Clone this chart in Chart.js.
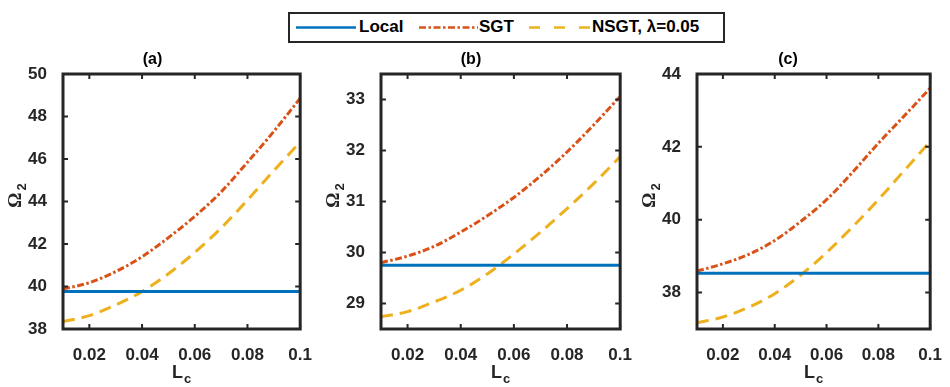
<!DOCTYPE html>
<html>
<head>
<meta charset="utf-8">
<script src="https://cdn.jsdelivr.net/npm/chart.js@4.4.1/dist/chart.umd.min.js"></script>
<style>
  body{margin:0;background:#fff;width:950px;height:387px;overflow:hidden;position:relative;font-family:"Liberation Sans",Arial,sans-serif;}
  canvas{position:absolute;}
  #legend{position:absolute;left:288px;top:12px;width:433px;height:27px;border:2px solid #262626;background:#fff;}
  #legend span{position:absolute;top:3px;font-weight:bold;font-size:17px;color:#000;line-height:20px;}
  #legend svg{position:absolute;top:0;}
</style>
</head>
<body>
<div id="legend">
  <svg style="left:5px" width="62" height="27"><line x1="1" y1="13.5" x2="61" y2="13.5" stroke="#0072BD" stroke-width="2.5"/></svg>
  <span style="left:69px">Local</span>
  <svg style="left:128px" width="62" height="27"><line x1="1" y1="13.5" x2="60" y2="13.5" stroke="#D95319" stroke-width="2.5" stroke-dasharray="7,2.5,2.5,2.5"/></svg>
  <span style="left:189px">SGT</span>
  <svg style="left:238px" width="64" height="27"><line x1="1" y1="13.5" x2="62" y2="13.5" stroke="#EDB120" stroke-width="2.5" stroke-dasharray="11,14"/></svg>
  <span style="left:302px">NSGT, λ=0.05</span>
</div>
<canvas id="chart_a" width="320" height="337" style="left:0px;top:50px"></canvas>
<canvas id="chart_b" width="320" height="337" style="left:320px;top:50px"></canvas>
<canvas id="chart_c" width="310" height="337" style="left:640px;top:50px"></canvas>
<script>
/* DATA */
let lc_values=[0.01,0.02,0.03,0.04,0.05,0.06,0.07,0.08,0.09,0.1];
let x_ticks=[0.02,0.04,0.06,0.08,0.1];
let x_tick_labels=["0.02","0.04","0.06","0.08","0.1"];

// (a)
let local_a=[39.76,39.76,39.76,39.76,39.76,39.76,39.76,39.76,39.76,39.76];
let sgt_a=[39.88,40.18,40.7,41.4,42.3,43.3,44.45,45.85,47.3,48.86];
let nsgt_a=[38.35,38.63,39.13,39.76,40.6,41.6,42.75,44.07,45.45,46.8];
let y_ticks_a=[38,40,42,44,46,48,50];

// (b)
let local_b=[29.75,29.75,29.75,29.75,29.75,29.75,29.75,29.75,29.75,29.75];
let sgt_b=[29.8,29.93,30.12,30.4,30.72,31.08,31.5,31.97,32.5,33.06];
let nsgt_b=[28.74,28.84,29.03,29.26,29.58,29.97,30.4,30.86,31.35,31.88];
let y_ticks_b=[29,30,31,32,33];

// (c)
let local_c=[38.53,38.53,38.53,38.53,38.53,38.53,38.53,38.53,38.53,38.53];
let sgt_c=[38.59,38.79,39.05,39.43,39.95,40.55,41.3,42.1,42.85,43.61];
let nsgt_c=[37.17,37.33,37.6,37.97,38.48,39.1,39.8,40.55,41.35,42.15];
let y_ticks_c=[38,40,42,44];

/* STYLE */
const AXIS_COLOR="#262626";
const FONT_NAME="'Liberation Sans', Arial, sans-serif";

function to_points(ys){
  return lc_values.map((x,i)=>({x:x,y:ys[i]}));
}

// box + inward ticks + axis titles (MATLAB look)
const box_plugin={
  id:"box_plugin",
  afterDraw(chart){
    const ctx=chart.ctx;
    const a=chart.chartArea;
    const xs=chart.scales.x, ys=chart.scales.y;
    ctx.save();
    ctx.strokeStyle=AXIS_COLOR;
    ctx.lineWidth=3;
    ctx.strokeRect(a.left,a.top,a.right-a.left,a.bottom-a.top);
    ctx.lineWidth=2;
    ctx.beginPath();
    xs.ticks.forEach(t=>{
      let px=xs.getPixelForValue(t.value);
      ctx.moveTo(px,a.bottom); ctx.lineTo(px,a.bottom-5);
      ctx.moveTo(px,a.top); ctx.lineTo(px,a.top+5);
    });
    ys.ticks.forEach(t=>{
      let py=ys.getPixelForValue(t.value);
      ctx.moveTo(a.left,py); ctx.lineTo(a.left+5,py);
      ctx.moveTo(a.right,py); ctx.lineTo(a.right-5,py);
    });
    ctx.stroke();

    // x title : L_c
    ctx.fillStyle=AXIS_COLOR;
    ctx.textBaseline="alphabetic";
    ctx.textAlign="left";
    ctx.font="bold 18px "+FONT_NAME;
    let wL=ctx.measureText("L").width;
    ctx.font="bold 13px "+FONT_NAME;
    let wc=ctx.measureText("c").width;
    let cx=(a.left+a.right)/2-(wL+1+wc)/2;
    ctx.font="bold 18px "+FONT_NAME;
    ctx.fillText("L",cx,328);
    ctx.font="bold 13px "+FONT_NAME;
    ctx.fillText("c",cx+wL+1,333);

    // y title : Omega_2 (rotated)
    ctx.translate(a.left-48,(a.top+a.bottom)/2-6);
    ctx.rotate(-Math.PI/2);
    ctx.font="bold 19px 'Liberation Serif', serif";
    let wO=ctx.measureText("Ω").width;
    ctx.font="bold 13px "+FONT_NAME;
    let w2=ctx.measureText("2").width;
    let sx=-(wO+2+w2)/2;
    ctx.font="bold 19px 'Liberation Serif', serif";
    ctx.fillText("Ω",sx,6);
    ctx.font="bold 13px "+FONT_NAME;
    ctx.fillText("2",sx+wO+2,11);
    ctx.restore();
  }
};

function make_panel(canvas_id,title,local,sgt,nsgt,y_min,y_max,y_ticks,left_w,right_pad){
  const dom=document.getElementById(canvas_id).getContext('2d');
  return new Chart(dom,{
    type:'line',
    data:{
      datasets:[
        { // Local
          label:'Local',
          data:to_points(local),
          borderColor:'#0072BD',
          borderWidth:3,
          pointRadius:0,
          fill:false
        },
        { // SGT
          label:'SGT',
          data:to_points(sgt),
          borderColor:'#D95319',
          borderWidth:3,
          borderDash:[7,2.5,2.5,2.5],
          pointRadius:0,
          cubicInterpolationMode:'monotone',
          fill:false
        },
        { // NSGT
          label:'NSGT, λ=0.05',
          data:to_points(nsgt),
          borderColor:'#EDB120',
          borderWidth:3,
          borderDash:[12,7],
          pointRadius:0,
          cubicInterpolationMode:'monotone',
          fill:false
        }
      ]
    },
    options:{
      responsive:false,
      animation:false,
      events:[],
      layout:{padding:{left:0,right:right_pad,top:0,bottom:0}},
      plugins:{
        legend:{display:false},
        tooltip:{enabled:false},
        title:{
          display:true,
          text:title,
          color:'#000',
          font:{family:FONT_NAME,size:16,weight:'bold',lineHeight:1.2},
          padding:{top:0,bottom:4.8}
        }
      },
      scales:{
        x:{
          type:'linear',
          min:0.01,
          max:0.1,
          afterBuildTicks(scale){ scale.ticks=x_ticks.map(v=>({value:v})); },
          afterFit(scale){ scale.height=58; },
          grid:{display:false},
          border:{display:false},
          ticks:{
            color:AXIS_COLOR,
            padding:8,
            maxRotation:0,
            autoSkip:false,
            font:{family:FONT_NAME,size:17,weight:'bold'},
            callback:(v)=>x_tick_labels[x_ticks.indexOf(v)]
          }
        },
        y:{
          type:'linear',
          min:y_min,
          max:y_max,
          afterBuildTicks(scale){ scale.ticks=y_ticks.map(v=>({value:v})); },
          afterFit(scale){ scale.width=left_w; },
          grid:{display:false},
          border:{display:false},
          ticks:{
            color:AXIS_COLOR,
            padding:8,
            autoSkip:false,
            font:{family:FONT_NAME,size:17,weight:'bold'},
            callback:(v)=>String(v)
          }
        }
      }
    },
    plugins:[box_plugin]
  });
}

let chart_a=make_panel('chart_a','(a)',local_a,sgt_a,nsgt_a,38,50,y_ticks_a,63,15);
let chart_b=make_panel('chart_b','(b)',local_b,sgt_b,nsgt_b,28.5,33.5,y_ticks_b,61,18);
let chart_c=make_panel('chart_c','(c)',local_c,sgt_c,nsgt_c,37,44,y_ticks_c,57,14);
</script>
</body>
</html>
